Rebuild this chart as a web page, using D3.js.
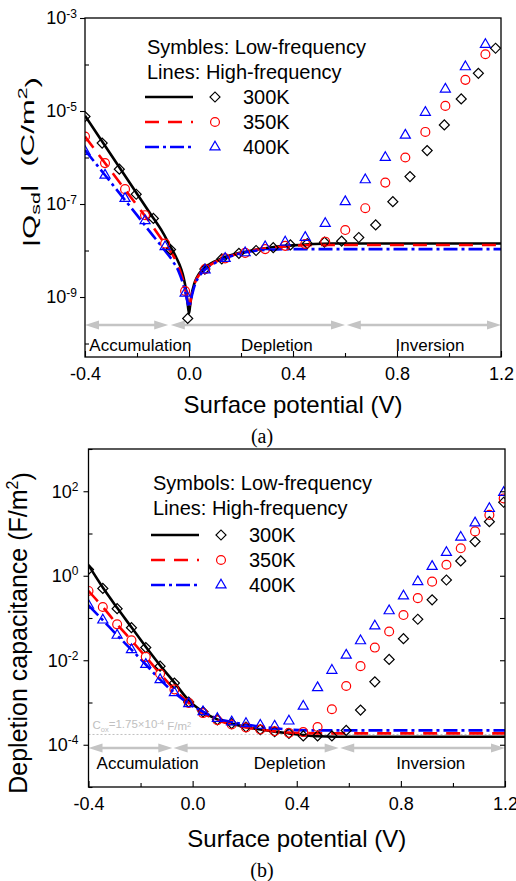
<!DOCTYPE html>
<html>
<head>
<meta charset="utf-8">
<script src="https://cdn.jsdelivr.net/npm/d3@7"></script>
<style>
  body { margin: 0; background: #fff; }
  svg { display: block; }
  text { font-family: "Liberation Sans", Arial, sans-serif; fill: #000; }
</style>
</head>
<body>
<svg id="chart" width="516" height="881"></svg>
<script>
// ---- data ----
var temps = ['300K', '350K', '400K'];
var xMajor = [-0.4, 0.0, 0.4, 0.8, 1.2];
var xMinor = [-0.2, 0.2, 0.6, 1.0];

// (a) |Qsd| in C/m^2, values stored as log10
var aExpMajor = [-3, -5, -7, -9];
var aExpMinor = [-4, -6, -8, -10];

var aLineX300 = [-0.40, -0.35, -0.30, -0.25, -0.20, -0.15, -0.10, -0.07, -0.05, -0.03, -0.02, -0.01, -0.004, 0.0, 0.004, 0.01, 0.02, 0.03, 0.05, 0.08, 0.12, 0.18, 0.25, 0.32, 0.40, 0.48, 0.55, 0.70, 0.90, 1.20];
var aLineLog300 = [-5.10, -5.52, -5.94, -6.36, -6.78, -7.20, -7.62, -7.93, -8.14, -8.40, -8.60, -8.90, -9.20, -9.35, -9.20, -8.95, -8.72, -8.58, -8.42, -8.29, -8.18, -8.07, -7.99, -7.93, -7.89, -7.86, -7.85, -7.85, -7.85, -7.85];
var aLineX350 = [-0.40, -0.35, -0.30, -0.25, -0.20, -0.15, -0.10, -0.06, -0.04, -0.025, -0.012, -0.004, 0.0, 0.004, 0.012, 0.025, 0.04, 0.06, 0.09, 0.13, 0.18, 0.25, 0.32, 0.40, 0.48, 0.55, 0.70, 1.20];
var aLineLog350 = [-5.55, -5.92, -6.29, -6.66, -7.03, -7.40, -7.80, -8.12, -8.35, -8.60, -8.90, -9.15, -9.25, -9.15, -8.90, -8.66, -8.52, -8.40, -8.28, -8.18, -8.08, -7.99, -7.94, -7.90, -7.88, -7.88, -7.88, -7.88];
var aLineX400 = [-0.40, -0.35, -0.30, -0.25, -0.20, -0.15, -0.10, -0.06, -0.04, -0.025, -0.012, -0.004, 0.0, 0.004, 0.012, 0.025, 0.04, 0.06, 0.09, 0.13, 0.18, 0.25, 0.32, 0.40, 0.50, 0.70, 1.20];
var aLineLog400 = [-5.84, -6.19, -6.54, -6.89, -7.24, -7.60, -7.95, -8.25, -8.45, -8.68, -8.95, -9.15, -9.22, -9.15, -8.95, -8.70, -8.55, -8.42, -8.30, -8.19, -8.09, -8.01, -7.98, -7.97, -7.97, -7.97, -7.97];

var aSymX300 = [-0.400, -0.334, -0.268, -0.203, -0.137, -0.071, -0.005, 0.061, 0.126, 0.192, 0.258, 0.324, 0.390, 0.455, 0.521, 0.587, 0.653, 0.718, 0.784, 0.850, 0.916, 0.982, 1.047, 1.113, 1.179];
var aSymLog300 = [-5.12, -5.69, -6.25, -6.79, -7.31, -7.98, -9.46, -8.40, -8.18, -8.06, -8.00, -7.94, -7.88, -7.85, -7.82, -7.80, -7.72, -7.45, -6.95, -6.41, -5.85, -5.30, -4.74, -4.19, -3.65];
var aSymX = [-0.400, -0.323, -0.246, -0.169, -0.092, -0.015, 0.062, 0.139, 0.216, 0.293, 0.370, 0.447, 0.524, 0.601, 0.678, 0.755, 0.832, 0.909, 0.986, 1.063, 1.140];
var aSymLog350 = [-5.55, -6.12, -6.68, -7.24, -7.85, -8.87, -8.40, -8.17, -8.05, -7.97, -7.90, -7.86, -7.81, -7.56, -7.09, -6.54, -6.00, -5.45, -4.89, -4.33, -3.78];
var aSymLog400 = [-5.87, -6.38, -6.88, -7.36, -7.92, -8.92, -8.42, -8.17, -8.05, -7.92, -7.82, -7.72, -7.42, -6.95, -6.48, -6.00, -5.52, -5.03, -4.53, -4.05, -3.57];

// (b) depletion capacitance in F/m^2, stored as log10
var bExpMajor = [2, 0, -2, -4];
var bExpMinor = [3, 1, -1, -3, -5];
var bExpRight = [2, 1, 0, -1, -2, -3, -4];

var bLineX = [-0.40, -0.345, -0.29, -0.235, -0.18, -0.125, -0.07, -0.015, 0.04, 0.095, 0.15, 0.205, 0.26, 0.315, 0.37, 0.425, 0.48, 0.55, 0.70, 1.20];
var bLineLog300 = [0.25, -0.28, -0.76, -1.22, -1.68, -2.12, -2.53, -2.95, -3.22, -3.40, -3.50, -3.58, -3.64, -3.69, -3.73, -3.77, -3.80, -3.81, -3.81, -3.81];
var bLineLog350 = [-0.36, -0.74, -1.15, -1.53, -1.92, -2.32, -2.69, -3.01, -3.25, -3.42, -3.52, -3.59, -3.64, -3.68, -3.71, -3.72, -3.73, -3.73, -3.73, -3.73];
var bLineLog400 = [-0.70, -1.05, -1.41, -1.75, -2.10, -2.46, -2.77, -3.03, -3.22, -3.38, -3.46, -3.52, -3.57, -3.61, -3.64, -3.66, -3.66, -3.66, -3.66, -3.66];

var bSymX = [-0.400, -0.345, -0.290, -0.235, -0.180, -0.125, -0.070, -0.015, 0.040, 0.095, 0.150, 0.205, 0.260, 0.315, 0.370, 0.425, 0.480, 0.535, 0.590, 0.645, 0.700, 0.755, 0.810, 0.865, 0.920, 0.975, 1.030, 1.085, 1.140, 1.195];
var bSymLog300 = [0.15, -0.30, -0.78, -1.23, -1.70, -2.14, -2.54, -2.99, -3.22, -3.41, -3.50, -3.58, -3.64, -3.69, -3.73, -3.79, -3.79, -3.79, -3.66, -3.18, -2.51, -1.98, -1.49, -1.03, -0.57, -0.10, 0.35, 0.81, 1.28, 1.74];
var bSymLog350 = [-0.36, -0.74, -1.15, -1.53, -1.92, -2.32, -2.69, -3.01, -3.25, -3.42, -3.52, -3.59, -3.64, -3.68, -3.72, -3.70, -3.58, -3.16, -2.61, -2.14, -1.70, -1.32, -0.93, -0.53, -0.14, 0.26, 0.65, 1.05, 1.44, 1.83];
var bSymLog400 = [-0.70, -1.05, -1.41, -1.75, -2.10, -2.46, -2.77, -3.03, -3.22, -3.38, -3.46, -3.50, -3.54, -3.56, -3.44, -3.09, -2.65, -2.24, -1.88, -1.54, -1.19, -0.83, -0.48, -0.14, 0.22, 0.55, 0.91, 1.25, 1.59, 1.97];

var coxValue = 1.75e-4;

var regionNames = ['Accumulation', 'Depletion', 'Inversion'];
var aRegions = [[-0.4, -0.08], [-0.07, 0.60], [0.607, 1.2]];
var aRegionLabelX = [-0.187, 0.338, 0.927];
var bRegions = [[-0.4, -0.078], [-0.073, 0.561], [0.567, 1.2]];
var bRegionLabelX = [-0.173, 0.373, 0.915];

// ---- styles ----
var colors = ['#000000', '#ff0000', '#0000ff'];
var dashes = [null, '14,9', '14,4,3,4'];
var symbols = ['diamond', 'circle', 'triangle'];

var svg = d3.select('#chart');

function zip (xs, logs) {
  return xs.map(function (x, i) { return [x, Math.pow(10, logs[i])]; });
}

function markerPath (kind) {
  if (kind === 'diamond') return d3.symbol().type(d3.symbolSquare).size(50)();
  if (kind === 'circle') return d3.symbol().type(d3.symbolCircle).size(62)();
  return d3.symbol().type(d3.symbolTriangle).size(44)();
}

function drawMarker (g, kind, cx, cy, color) {
  g.append('path')
    .attr('d', markerPath(kind))
    .attr('transform', 'translate(' + cx + ',' + cy + ')' + (kind === 'diamond' ? ' rotate(45)' : ''))
    .attr('fill', 'none')
    .attr('stroke', color)
    .attr('stroke-width', 1.2);
}

function expLabels (sel, supSize) {
  sel.selectAll('.tick text').each(function (d) {
    var t = d3.select(this);
    var e = Math.round(Math.log10(d));
    t.text(null);
    t.append('tspan').text('10');
    t.append('tspan').attr('dy', '-0.55em').attr('font-size', supSize).text(e);
  });
}

function drawPanel (p) {
  var x = d3.scaleLinear().domain([-0.4, 1.2]).range([p.left, p.right]);
  var y = d3.scaleLog().domain(p.yDomain).range([p.bottom, p.top]);
  var g = svg.append('g');

  svg.append('clipPath').attr('id', 'clip-' + p.id)
    .append('rect')
    .attr('x', p.left).attr('y', p.top)
    .attr('width', p.right - p.left).attr('height', p.bottom - p.top);

  // Cox reference line
  if (p.cox) {
    g.append('line')
      .attr('x1', p.left).attr('x2', p.right)
      .attr('y1', y(p.cox)).attr('y2', y(p.cox))
      .attr('stroke', '#b0b0b0').attr('stroke-width', 0.8)
      .attr('stroke-dasharray', '2,2');
    var ct = g.append('text')
      .attr('x', p.left + 4).attr('y', y(p.cox) - 5)
      .attr('font-size', 11.5)
      .style('fill', '#c0c0c0');
    ct.append('tspan').text('C');
    ct.append('tspan').attr('dy', '0.3em').attr('font-size', 7.5).text('ox');
    ct.append('tspan').attr('dy', '-0.3em').text('=1.75\u00d710');
    ct.append('tspan').attr('dy', '-0.45em').attr('font-size', 7.5).text('-4');
    ct.append('tspan').attr('dy', '0.45em').text(' F/m');
    ct.append('tspan').attr('dy', '-0.45em').attr('font-size', 7.5).text('2');
  }

  // region arrows
  var ay = p.arrowY;
  p.regions.forEach(function (r, i) {
    var x0 = x(r[0]), x1 = x(r[1]), hl = 14, hw = 4.5;
    g.append('line')
      .attr('x1', x0 + hl - 1).attr('x2', x1 - hl + 1)
      .attr('y1', ay).attr('y2', ay)
      .attr('stroke', '#c4c4c4').attr('stroke-width', 2.5);
    g.append('path')
      .attr('d', 'M' + x0 + ',' + ay + 'L' + (x0 + hl) + ',' + (ay - hw) + 'L' + (x0 + hl) + ',' + (ay + hw) + 'Z' +
                 'M' + x1 + ',' + ay + 'L' + (x1 - hl) + ',' + (ay - hw) + 'L' + (x1 - hl) + ',' + (ay + hw) + 'Z')
      .attr('fill', '#c4c4c4');
    g.append('text')
      .attr('x', x(p.regionLabelX[i])).attr('y', p.regionLabelY)
      .attr('text-anchor', 'middle')
      .attr('font-size', 17)
      .text(regionNames[i]);
  });

  // data
  var data = g.append('g').attr('clip-path', 'url(#clip-' + p.id + ')');
  var line = d3.line()
    .x(function (d) { return x(d[0]); })
    .y(function (d) { return y(d[1]); })
    .curve(d3.curveMonotoneX);

  p.lines.forEach(function (pts, i) {
    data.append('path')
      .attr('d', line(pts))
      .attr('fill', 'none')
      .attr('stroke', colors[i])
      .attr('stroke-width', 2.6)
      .attr('stroke-dasharray', dashes[i]);
  });
  p.symbols.forEach(function (pts, i) {
    pts.forEach(function (d) {
      drawMarker(data, symbols[i], x(d[0]), y(d[1]), colors[i]);
    });
  });

  // axes
  var bx = p.bottom;
  g.append('g').attr('transform', 'translate(0,' + bx + ')')
    .call(d3.axisTop(x).tickValues(xMajor).tickSize(6).tickFormat(''))
    .call(function (s) { s.select('.domain').remove(); });
  g.append('g').attr('transform', 'translate(0,' + bx + ')')
    .call(d3.axisTop(x).tickValues(xMinor).tickSize(4).tickFormat(''))
    .call(function (s) { s.select('.domain').remove(); });
  var xl = g.append('g').attr('transform', 'translate(0,' + bx + ')')
    .call(d3.axisBottom(x).tickValues(xMajor).tickSize(0).tickPadding(10)
      .tickFormat(function (d) { return d.toFixed(1); }));
  xl.select('.domain').remove();
  xl.selectAll('text').attr('font-size', 18).attr('font-family', null).style('fill', '#000');

  g.append('g').attr('transform', 'translate(' + p.left + ',0)')
    .call(d3.axisLeft(y).tickValues(p.expMajor.map(function (e) { return Math.pow(10, e); })).tickSize(5).tickFormat(''))
    .call(function (s) { s.select('.domain').remove(); });
  g.append('g').attr('transform', 'translate(' + p.left + ',0)')
    .call(d3.axisRight(y).tickValues(p.expMinor.map(function (e) { return Math.pow(10, e); })).tickSize(4).tickFormat(''))
    .call(function (s) { s.select('.domain').remove(); });
  var yl = g.append('g').attr('transform', 'translate(' + p.left + ',0)')
    .call(d3.axisLeft(y).tickValues(p.expMajor.map(function (e) { return Math.pow(10, e); }))
      .tickSize(0).tickPadding(p.yPad).tickFormat(function (d) { return d; }));
  yl.select('.domain').remove();
  yl.selectAll('text').attr('font-size', 18).attr('font-family', null).style('fill', '#000');
  expLabels(yl, 12);

  if (p.expRight) {
    g.append('g').attr('transform', 'translate(' + p.right + ',0)')
      .call(d3.axisLeft(y).tickValues(p.expRight.map(function (e) { return Math.pow(10, e); })).tickSize(5).tickFormat(''))
      .call(function (s) { s.select('.domain').remove(); });
  }

  g.selectAll('.tick line').attr('stroke', '#000').attr('stroke-width', 1.1);

  g.append('rect')
    .attr('x', p.left).attr('y', p.top)
    .attr('width', p.right - p.left).attr('height', p.bottom - p.top)
    .attr('fill', 'none').attr('stroke', '#000').attr('stroke-width', 1.3);

  // legend
  var L = p.legend;
  g.append('text').attr('x', L.x).attr('y', L.y0).attr('font-size', 20).text(L.title1);
  g.append('text').attr('x', L.x).attr('y', L.y0 + 25).attr('font-size', 20).text('Lines: High-frequency');
  temps.forEach(function (t, i) {
    var ry = L.rowY + i * 25;
    g.append('line')
      .attr('x1', L.x - 2).attr('x2', L.x + 46)
      .attr('y1', ry).attr('y2', ry)
      .attr('stroke', colors[i]).attr('stroke-width', 2.6)
      .attr('stroke-dasharray', dashes[i]);
    drawMarker(g, symbols[i], L.x + 68, ry, colors[i]);
    g.append('text').attr('x', L.x + 96).attr('y', ry + 7).attr('font-size', 20).text(t);
  });

  // axis titles
  g.append('text')
    .attr('x', (p.left + p.right) / 2 + 0).attr('y', p.xTitleY)
    .attr('text-anchor', 'middle').attr('font-size', 24)
    .text('Surface potential (V)');
  g.append('text')
    .attr('x', 262).attr('y', p.capY)
    .attr('text-anchor', 'middle').attr('font-size', 20)
    .style('font-family', '"Liberation Serif", "Times New Roman", serif')
    .text(p.caption);
}

drawPanel({
  id: 'a', left: 85, right: 501, top: 18, bottom: 357,
  yDomain: [Math.pow(10, -10.29), 1e-3],
  expMajor: aExpMajor, expMinor: aExpMinor, yPad: 8,
  lines: [zip(aLineX300, aLineLog300), zip(aLineX350, aLineLog350), zip(aLineX400, aLineLog400)],
  symbols: [zip(aSymX300, aSymLog300), zip(aSymX, aSymLog350), zip(aSymX, aSymLog400)],
  regions: aRegions, regionLabelX: aRegionLabelX, arrowY: 325, regionLabelY: 351,
  legend: { x: 147, y0: 54, rowY: 97, title1: 'Symbles: Low-frequency' },
  xTitleY: 413, caption: '(a)', capY: 443
});

drawPanel({
  id: 'b', left: 88.5, right: 505, top: 449, bottom: 787,
  yDomain: [1e-5, 1e3],
  expMajor: bExpMajor, expMinor: bExpMinor, expRight: bExpRight, yPad: 10,
  cox: coxValue,
  lines: [zip(bLineX, bLineLog300), zip(bLineX, bLineLog350), zip(bLineX, bLineLog400)],
  symbols: [zip(bSymX, bSymLog300), zip(bSymX, bSymLog350), zip(bSymX, bSymLog400)],
  regions: bRegions, regionLabelX: bRegionLabelX, arrowY: 748, regionLabelY: 769,
  legend: { x: 153, y0: 490, rowY: 535, title1: 'Symbols: Low-frequency' },
  xTitleY: 847, caption: '(b)', capY: 877
});

// y titles
var ta = svg.append('text')
  .attr('transform', 'translate(36,162) rotate(-90)')
  .attr('text-anchor', 'middle').attr('font-size', 19)
  .attr('textLength', 170).attr('lengthAdjust', 'spacingAndGlyphs')
  .style('white-space', 'pre');
ta.append('tspan').text('|Q');
ta.append('tspan').attr('dy', '0.3em').attr('font-size', 13).text('sd');
ta.append('tspan').attr('dy', '-0.3em').text('|  (C/m');
ta.append('tspan').attr('dy', '-0.55em').attr('font-size', 13).text('2');
ta.append('tspan').attr('dy', '0.55em').text(')');

var tb = svg.append('text')
  .attr('transform', 'translate(26.5,633) rotate(-90)')
  .attr('text-anchor', 'middle').attr('font-size', 25);
tb.append('tspan').text('Depletion capacitance (F/m');
tb.append('tspan').attr('dy', '-0.55em').attr('font-size', 16).text('2');
tb.append('tspan').attr('dy', '0.55em').text(')');
</script>
</body>
</html>
